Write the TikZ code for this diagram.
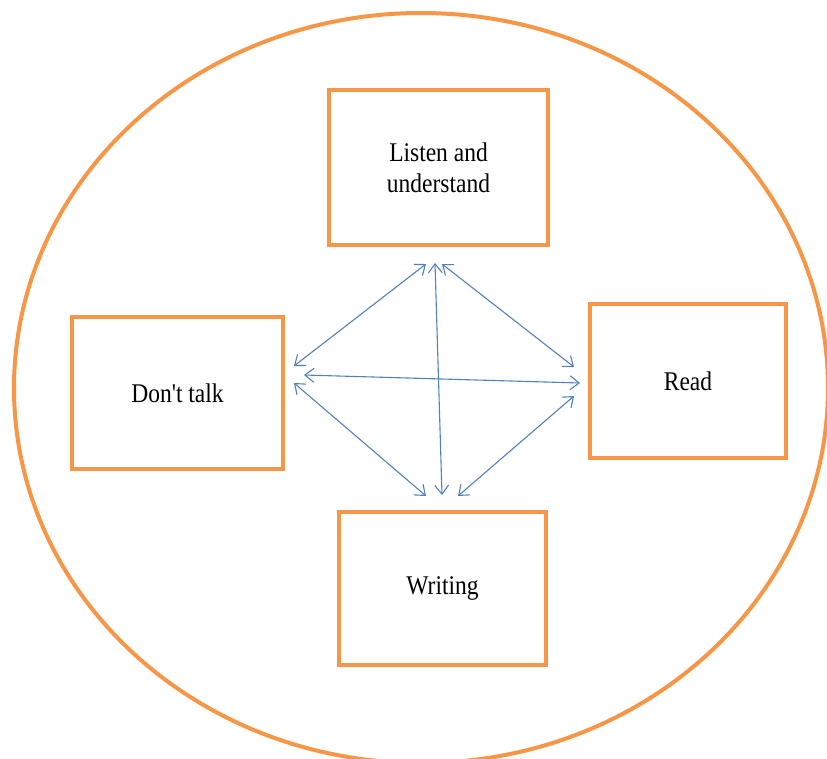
\documentclass[tikz,border=0pt]{standalone}
\usepackage{fontspec}
\setmainfont{Liberation Serif}
\newfontfamily\skillfont[FakeStretch=0.87]{Liberation Serif}
\definecolor{frame}{RGB}{247, 150, 70}
\definecolor{linkblue}{RGB}{79, 129, 189}
\usetikzlibrary{arrows.meta, positioning}

\begin{document}
\begin{tikzpicture}[x=1pt, y=-1pt,
    skillbox/.style={draw=frame, line width=4pt, align=center,
        font=\skillfont\fontsize{27}{31}\selectfont},
    twoway/.style={draw=linkblue, line width=1.1pt,
        {Straight Barb[length=9pt, width=14pt]}-{Straight Barb[length=9pt, width=14pt]}}]
    \useasboundingbox (0,0) rectangle (827,758);
    \draw[frame, line width=4pt] (421,388) ellipse [x radius=407, y radius=375];

    % the four boxes
    \node[skillbox, minimum width=219pt, minimum height=155pt] (listen)  at (438.5,167.5) {Listen and\\understand};
    \node[skillbox, minimum width=211pt, minimum height=152pt] (talk)    at (177.5,393)   {Don't talk};
    \node[skillbox, minimum width=196pt, minimum height=154pt] (read)    at (688,381)     {Read};
    \node[skillbox, minimum width=207pt, minimum height=153pt] (writing) at (442.5,588.5) {Writing};

    % links
    \draw[twoway] ([xshift=-12.5pt, yshift=-17pt]listen.south) -- ([xshift=9pt, yshift=27pt]talk.east);
    \draw[twoway] ([xshift=-3.5pt, yshift=-16pt]listen.south)  -- ([xshift=-0.5pt, yshift=15pt]writing.north);
    \draw[twoway] ([xshift=3.5pt, yshift=-17pt]listen.south)   -- ([xshift=-14pt, yshift=14pt]read.west);
    \draw[twoway] ([xshift=19pt, yshift=18pt]talk.east)        -- ([xshift=-8pt, yshift=-2pt]read.west);
    \draw[twoway] ([xshift=9pt, yshift=10pt]talk.east)         -- ([xshift=-16.5pt, yshift=14pt]writing.north);
    \draw[twoway] ([xshift=-14pt, yshift=-15pt]read.west)      -- ([xshift=15.5pt, yshift=14pt]writing.north);
\end{tikzpicture}
\end{document}
